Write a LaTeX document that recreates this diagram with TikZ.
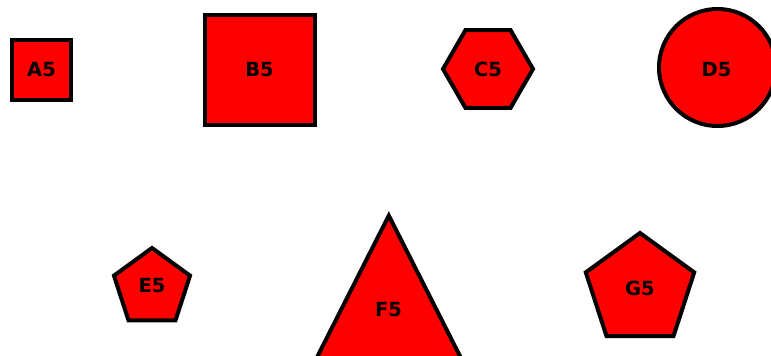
\documentclass[tikz,border=0pt]{standalone}
\usepackage{fontspec}
\setmainfont{DejaVu Sans}
\begin{document}
\begin{tikzpicture}[x=1pt,y=-1pt,
  shapestyle/.style={draw=black,fill=red,line width=4pt},
  lbl/.style={font=\fontsize{19.5}{22}\selectfont\bfseries,text=black,inner sep=0pt}]
\useasboundingbox (0,0) rectangle (771,356);
% A5
\draw[shapestyle] (12,39.5) rectangle (70.5,99.7);
\node[lbl] (a5) at (41.5,69.5) {A5};
% B5
\draw[shapestyle] (204.5,14.5) rectangle (314.5,124.5);
\node[lbl] (b5) at (259.5,69.5) {B5};
% C5
\draw[shapestyle,shift={(488,69)}] (0:45) -- (60:45) -- (120:45) -- (180:45) -- (240:45) -- (300:45) -- cycle;
\node[lbl] (c5) at (488,69.5) {C5};
% D5
\draw[shapestyle] (717.5,67.5) circle[radius=58.5];
\node[lbl] (d5) at (716.5,69.5) {D5};
% E5
\draw[shapestyle,shift={(152,288)}] (-90:40) -- (-18:40) -- (54:40) -- (126:40) -- (198:40) -- cycle;
\node[lbl] (e5) at (152,285.5) {E5};
% F5
\draw[shapestyle] (388.8,215.6) -- (464,364) -- (313.6,364) -- cycle;
\node[lbl] (f5) at (388.5,309.6) {F5};
% G5
\draw[shapestyle,shift={(640,290)}] (-90:57) -- (-18:57) -- (54:57) -- (126:57) -- (198:57) -- cycle;
\node[lbl] (g5) at (640,288) {G5};
\end{tikzpicture}
\end{document}
